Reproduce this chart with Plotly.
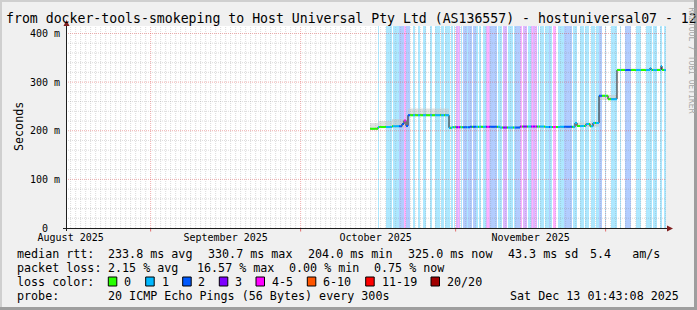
import plotly.graph_objects as go
import pandas as pd

# ---------------- data ----------------
graph_end = "2025-12-13 01:43:08"
span_days = 120
first_sample = "2025-10-14 20:55:08"
step_hours = 4.8

# median rtt in ms as runs: (number of steps, value)
median_runs = [(8, 204), (14, 207.5), (10, 209), (2, 214), (2, 221), (2, 210),
               (41, 232), (3, 206), (18, 207), (30, 208), (20, 206.5), (25, 208.5),
               (15, 207.5), (15, 208), (2, 216), (9, 210), (4, 214), (3, 209),
               (6, 216), (9, 272), (9, 265), (33, 325), (1, 329), (10, 325),
               (1, 333), (4, 325)]

# smoke (ping spread) in ms as runs: (number of steps, low, high)
smoke_runs = [(8, 203, 216), (14, 205, 220), (16, 206, 224), (41, 230, 246),
              (126, 205, 210), (24, 208, 217), (18, 263, 274), (49, 323, 328)]

# loss class per step (0 = none, 1 = 1, 2 = 2, 3 = 3, 4 = 4-5)
loss_class = [
    0, 0, 0, 0, 0, 0, 0, 0, 1, 0,
    0, 0, 0, 0, 0, 0, 1, 1, 1, 1,
    1, 1, 0, 1, 1, 1, 1, 1, 1, 2,
    2, 2, 2, 2, 4, 4, 2, 2, 2, 2,
    0, 0, 0, 1, 1, 0, 0, 0, 1, 1,
    0, 0, 0, 1, 1, 1, 0, 0, 0, 0,
    1, 1, 0, 0, 0, 1, 1, 1, 1, 1,
    0, 1, 1, 1, 0, 1, 1, 1, 1, 1,
    0, 1, 1, 0, 1, 0, 3, 3, 4, 3,
    0, 1, 0, 2, 2, 2, 2, 1, 2, 2,
    2, 2, 0, 2, 2, 2, 1, 1, 0, 1,
    1, 0, 0, 1, 1, 1, 3, 4, 4, 3,
    2, 2, 2, 2, 2, 2, 2, 0, 1, 1,
    1, 1, 0, 3, 3, 3, 3, 0, 1, 1,
    1, 1, 1, 0, 1, 2, 2, 2, 2, 2,
    3, 4, 0, 3, 3, 3, 3, 0, 1, 1,
    1, 3, 4, 3, 3, 4, 3, 0, 1, 0,
    1, 1, 1, 1, 0, 1, 1, 1, 1, 2,
    1, 1, 0, 4, 4, 4, 0, 0, 1, 1,
    1, 1, 1, 1, 2, 2, 2, 2, 2, 2,
    2, 2, 0, 1, 1, 1, 1, 0, 0, 0,
    1, 1, 1, 1, 0, 1, 1, 1, 1, 0,
    0, 1, 1, 1, 1, 0, 1, 1, 1, 2,
    2, 2, 0, 0, 0, 1, 0, 0, 0, 0,
    0, 1, 1, 1, 1, 1, 1, 0, 0, 0,
    1, 0, 0, 0, 0, 2, 2, 2, 2, 2,
    2, 0, 0, 0, 0, 0, 1, 1, 1, 1,
    1, 0, 0, 0, 0, 0, 1, 1, 1, 1,
    1, 1, 0, 1, 1, 1, 1, 0, 0, 0,
    1, 1, 0, 0, 1, 1,
]

month_labels = ["August 2025", "September 2025", "October 2025", "November 2025"]
month_label_dates = ["2025-08-16", "2025-09-16", "2025-10-16", "2025-11-16"]
y_ticks = [0, 100, 200, 300, 400]
y_tick_text = ["0\u00a0\u00a0", "100 m", "200 m", "300 m", "400 m"]

title_text = ("from docker-tools-smokeping to Host Universal Pty Ltd (AS136557)"
              " - hostuniversal07 - 120 Days")
rtt_stats = ["233.8 ms avg", "330.7 ms max", "204.0 ms min", "325.0 ms now",
             "43.3 ms sd", "5.4\u00a0\u00a0\u00a0am/s"]
loss_stats = ["2.15 % avg", "16.57 % max", "0.00 % min", "0.75 % now"]
legend_labels = ["0", "1", "2", "3", "4-5", "6-10", "11-19", "20/20"]
probe_text = "20 ICMP Echo Pings (56 Bytes) every 300s"
stamp_text = "Sat Dec 13 01:43:08 2025"

# ---------------- styles ----------------
FONT = "DejaVu Sans Mono"
LOSS_COLORS = ["#26ff00", "#00b8ff", "#0059ff", "#7e00ff", "#ff00ff",
               "#ff5500", "#ff0000", "#a10000"]
BAND_COLORS = {1: "rgba(0,184,255,0.32)", 2: "rgba(0,89,255,0.30)",
               3: "rgba(126,0,255,0.28)", 4: "rgba(255,0,255,0.30)"}
Y_MAX = 415.4
W, H = 697, 310
L, R, T, B = 66, 31, 26, 82
PW, PH = W - L - R, H - T - B


def xp(px):
    return (px - L) / PW


def yp(py):
    return (H - B - py) / PH


# ---------------- derived series ----------------
t_end = pd.Timestamp(graph_end)
t_start = t_end - pd.Timedelta(days=span_days)
step = pd.Timedelta(hours=step_hours)
n = len(loss_class)
times = [pd.Timestamp(first_sample) + i * step for i in range(n)]
median = [v for k, v in median_runs for _ in range(k)]
smoke_lo = [lo for k, lo, hi in smoke_runs for _ in range(k)]
smoke_hi = [hi for k, lo, hi in smoke_runs for _ in range(k)]
t_edge = times + [times[-1] + step]

fig = go.Figure()

# loss background bands
bx = [times[i] + step / 2 for i in range(n) if loss_class[i] > 0]
bc = [BAND_COLORS[loss_class[i]] for i in range(n) if loss_class[i] > 0]
fig.add_trace(go.Bar(x=bx, y=[Y_MAX] * len(bx), base=0,
                     width=step.total_seconds() * 1000,
                     marker=dict(color=bc, line=dict(width=0)),
                     hoverinfo="skip", showlegend=False))

# smoke
fig.add_trace(go.Scatter(x=t_edge, y=smoke_lo + [smoke_lo[-1]], mode="lines",
                         line=dict(width=0, shape="hv"), hoverinfo="skip",
                         showlegend=False))
fig.add_trace(go.Scatter(x=t_edge, y=smoke_hi + [smoke_hi[-1]], mode="lines",
                         line=dict(width=0, shape="hv"), fill="tonexty",
                         fillcolor="rgba(200,200,200,0.55)", hoverinfo="skip",
                         showlegend=False))

# median connector (dark) then loss-coloured segments
fig.add_trace(go.Scatter(x=t_edge, y=median + [median[-1]], mode="lines",
                         line=dict(width=1, color="#1a1a1a", shape="hv"),
                         hoverinfo="skip", showlegend=False))
for c in range(5):
    xs, ys = [], []
    for i in range(n):
        if loss_class[i] == c:
            xs += [times[i], times[i] + step, None]
            ys += [median[i], median[i], None]
    if xs:
        fig.add_trace(go.Scatter(x=xs, y=ys, mode="lines",
                                 line=dict(width=2, color=LOSS_COLORS[c]),
                                 hoverinfo="skip", showlegend=False))

shapes = []
GRID = "rgba(143,143,143,0.32)"
MGRID = "rgba(222,72,72,0.45)"
# horizontal grid
for v in range(20, 420, 20):
    shapes.append(dict(type="line", xref="paper", yref="y", x0=0, x1=1, y0=v, y1=v,
                       line=dict(color=MGRID if v % 100 == 0 else GRID, width=1,
                                 dash="1px,1px"), layer="above"))
# vertical grid (daily minor, monthly major) + month tick marks
d = pd.Timestamp(t_start.date()) + pd.Timedelta(days=1)
while d < t_end:
    major = d.day == 1
    shapes.append(dict(type="line", xref="x", yref="paper", x0=d, x1=d, y0=0, y1=1,
                       line=dict(color=MGRID if major else GRID, width=1,
                                 dash="1px,1px"), layer="above"))
    if major:
        shapes.append(dict(type="line", xref="x", yref="paper", x0=d, x1=d,
                           y0=yp(229), y1=yp(231.5),
                           line=dict(color="rgba(222,72,72,0.8)", width=1), layer="above"))
    d += pd.Timedelta(days=1)

# axes with arrows
AX = "#1f1f1f"
ARROW = "#7f1f1f"
shapes.append(dict(type="line", xref="paper", yref="paper", x0=xp(63), x1=xp(668),
                   y0=yp(228.5), y1=yp(228.5), line=dict(color=AX, width=1), layer="above"))
shapes.append(dict(type="line", xref="paper", yref="paper", x0=xp(66.5), x1=xp(66.5),
                   y0=yp(231), y1=yp(24), line=dict(color=AX, width=1), layer="above"))
shapes.append(dict(type="path", xref="paper", yref="paper", layer="above",
                   path=f"M {xp(66.5)} {yp(20)} L {xp(63.5)} {yp(26)} L {xp(69.5)} {yp(26)} Z",
                   fillcolor=ARROW, line=dict(width=0)))
shapes.append(dict(type="path", xref="paper", yref="paper", layer="above",
                   path=f"M {xp(673)} {yp(228.5)} L {xp(667)} {yp(225.5)} L {xp(667)} {yp(231.5)} Z",
                   fillcolor=ARROW, line=dict(width=0)))

# frame (3d shade)
shapes.append(dict(type="rect", xref="paper", yref="paper", x0=xp(0), x1=xp(W),
                   y0=yp(0), y1=yp(2), fillcolor="#cfcfcf", line=dict(width=0)))
shapes.append(dict(type="rect", xref="paper", yref="paper", x0=xp(0), x1=xp(2),
                   y0=yp(0), y1=yp(H), fillcolor="#cfcfcf", line=dict(width=0)))
shapes.append(dict(type="rect", xref="paper", yref="paper", x0=xp(0), x1=xp(W),
                   y0=yp(H - 3), y1=yp(H), fillcolor="#9e9e9e", line=dict(width=0)))
shapes.append(dict(type="rect", xref="paper", yref="paper", x0=xp(W - 3), x1=xp(W),
                   y0=yp(0), y1=yp(H), fillcolor="#9e9e9e", line=dict(width=0)))

annotations = []


def ann(text, px, py, size=11.7, xanchor="left", color="#000000", angle=0):
    annotations.append(dict(text=text, x=xp(px), y=yp(py), xref="paper", yref="paper",
                            xanchor=xanchor, yanchor="middle", showarrow=False,
                            textangle=angle, borderpad=0,
                            font=dict(family=FONT, size=size, color=color)))


ann(title_text, 5, 19, size=13.2)
ann("Seconds", 11, 127, angle=-90)
ann("RRDTOOL / TOBI OETIKER", 686, 60, size=8, color="#a8a8a8", angle=90)

ROW = [254.3, 268.3, 282.3, 296]
ann("median rtt:", 16, ROW[0])
for txt, px in zip(rtt_stats, [107.3, 207.3, 307, 407.3, 506.7, 589.3]):
    ann(txt, px, ROW[0])
ann("packet loss:", 16, ROW[1])
for txt, px in zip(loss_stats, [107.3, 196, 288, 372.7]):
    ann(txt, px, ROW[1])
ann("loss color:", 16, ROW[2])
box_left = [108.3, 145.7, 182.7, 219.3, 256, 307.3, 365.7, 431]
label_left = [123.3, 160.7, 197.3, 234.3, 270.7, 321.7, 380.7, 445.7]
for lab, bxl, lx, col in zip(legend_labels, box_left, label_left, LOSS_COLORS):
    shapes.append(dict(type="rect", xref="paper", yref="paper", x0=xp(bxl), x1=xp(bxl + 8.5),
                       y0=yp(277), y1=yp(286), fillcolor=col,
                       line=dict(color="#000000", width=1)))
    ann(lab, lx, ROW[2])
ann("probe:", 16, ROW[3])
ann(probe_text, 107.3, ROW[3])
ann(stamp_text, 680, ROW[3], xanchor="right")

fig.update_layout(
    width=W, height=H,
    margin=dict(l=L, r=R, t=T, b=B, pad=0),
    paper_bgcolor="#f0f0f0", plot_bgcolor="#ffffff",
    showlegend=False, bargap=0,
    shapes=shapes, annotations=annotations,
    xaxis=dict(type="date", range=[t_start, t_end], showgrid=False, zeroline=False,
               showline=False, ticks="", tickvals=month_label_dates, ticktext=month_labels,
               ticklabelstandoff=2,
               tickfont=dict(family=FONT, size=10, color="#000000"), fixedrange=True),
    yaxis=dict(range=[0, Y_MAX], showgrid=False, zeroline=False, showline=False,
               ticks="outside", ticklen=3, tickcolor="rgba(0,0,0,0)",
               tickvals=y_ticks, ticktext=y_tick_text,
               tickfont=dict(family=FONT, size=10, color="#000000"), fixedrange=True),
)

fig.write_html("out.html")
